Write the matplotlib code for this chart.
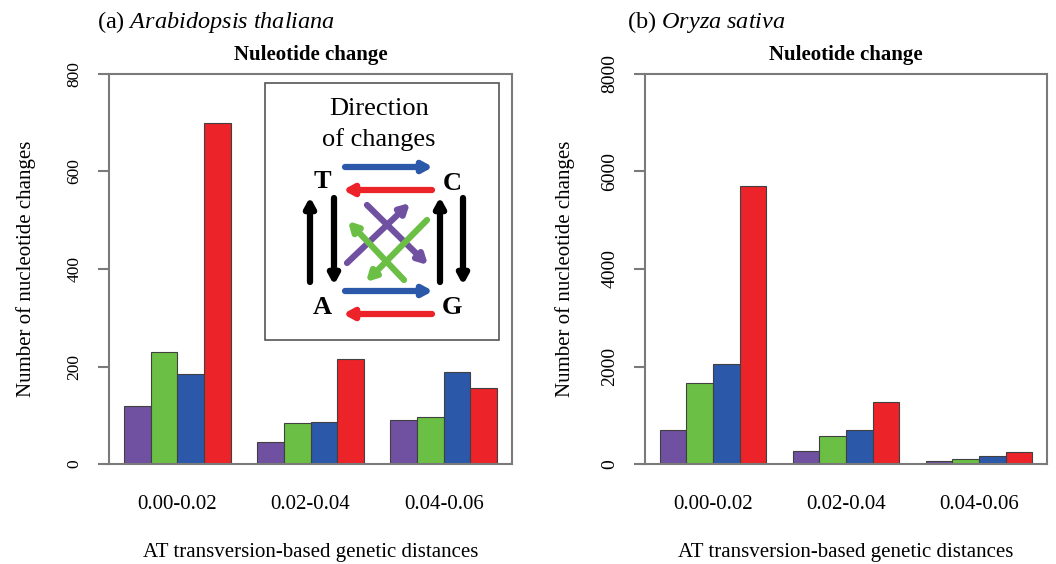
from matplotlib import pyplot as plt
import numpy as np

plt.rcParams['font.family'] = ['Liberation Serif', 'DejaVu Serif']
plt.rcParams['mathtext.fontset'] = 'custom'
plt.rcParams['mathtext.rm'] = 'Liberation Serif'
plt.rcParams['mathtext.it'] = 'Liberation Serif:italic'

# data
distances = ['0.00-0.02', '0.02-0.04', '0.04-0.06']
directions = ['purple', 'green', 'blue', 'red']
colorlist = ['#7050a0', '#6bbf45', '#2b58a8', '#ec2329']

arabidopsis = [
    [119, 230, 185, 700],
    [45, 84, 86, 215],
    [90, 97, 189, 156],
]
oryza = [
    [700, 1660, 2050, 5700],
    [267, 580, 690, 1272],
    [55, 110, 170, 246],
]

W, H = 1056, 564
fig = plt.figure(figsize=(W / 100, H / 100), dpi=100)

grey = '#7a7a7a'


def panel(rect, values, ymax, yticks, ytick_size, ylabelpad):
    ax = fig.add_axes(rect)
    values = np.array(values)
    # R barplot style: bar width 1, one bar space before each group
    for g in range(len(distances)):
        start = 1 + g * 5
        for i in range(len(directions)):
            ax.bar(start + i + 0.5, values[g, i], width=1.0,
                   color=colorlist[i], edgecolor='#404040', linewidth=0.8)
    ax.set_xlim(0.44, 15.56)
    ax.set_ylim(0, ymax)
    ax.set_xticks([3, 8, 13])
    ax.set_xticklabels(distances, fontsize=15)
    ax.tick_params(axis='x', length=0, pad=22)
    ax.set_yticks(yticks)
    ax.set_yticklabels([str(t) for t in yticks], rotation=90, va='center',
                       fontsize=ytick_size)
    ax.tick_params(axis='y', length=8, width=1.5, color=grey, pad=11)
    for s in ax.spines.values():
        s.set_color(grey)
        s.set_linewidth(1.5)
    ax.set_title('Nuleotide change', fontsize=15, fontweight='bold', pad=10)
    ax.set_xlabel('AT transversion-based genetic distances', fontsize=15,
                  labelpad=21)
    ax.set_ylabel('Number of nucleotide changes', fontsize=15,
                  labelpad=ylabelpad)
    return ax


ax1 = panel([109 / W, 1 - 464 / H, 403 / W, 390 / H], arabidopsis, 800,
            [0, 200, 400, 600, 800], 12.5, 22)
ax2 = panel([645 / W, 1 - 464 / H, 402 / W, 390 / H], oryza, 8000,
            [0, 2000, 4000, 6000, 8000], 14, 19)

fig.text(97 / W, 1 - 22 / H, r'(a) $\mathit{Arabidopsis\ thaliana}$',
         fontsize=17.5, va='center', ha='left')
fig.text(627 / W, 1 - 22 / H, r'(b) $\mathit{Oryza\ sativa}$',
         fontsize=17.5, va='center', ha='left')

# overlay in pixel coordinates for the direction diagram
ov = fig.add_axes([0, 0, 1, 1], facecolor='none')
ov.set_xlim(0, W)
ov.set_ylim(H, 0)
ov.axis('off')

ov.add_patch(plt.Rectangle((265, 83), 234, 257, fill=False,
                           edgecolor='#555555', linewidth=1.2))
ov.text(379, 109, 'Direction', ha='center', va='center', fontsize=19)
ov.text(379, 140, 'of changes', ha='center', va='center', fontsize=19)
for letter, x, y in [('T', 322, 181), ('C', 452, 183),
                     ('A', 322, 308), ('G', 452, 308)]:
    ov.text(x, y, letter, ha='center', va='center', fontsize=19,
            fontweight='bold')


def arrow(tail, head, color):
    ov.annotate('', xy=head, xytext=tail,
                arrowprops=dict(arrowstyle='-|>,head_length=0.55,head_width=0.3',
                                lw=4.5, color=color, shrinkA=0, shrinkB=0))


arrow((345, 167), (433, 167), colorlist[2])
arrow((432, 190), (343, 190), colorlist[3])
arrow((345, 291), (433, 291), colorlist[2])
arrow((432, 314), (343, 314), colorlist[3])
arrow((310, 282), (310, 197), 'black')
arrow((334, 198), (334, 285), 'black')
arrow((440, 282), (440, 197), 'black')
arrow((463, 198), (463, 285), 'black')
arrow((347, 263), (410, 203), colorlist[0])
arrow((367, 205), (428, 265), colorlist[0])
arrow((427, 220), (366, 282), colorlist[1])
arrow((404, 280), (348, 221), colorlist[1])

fig.savefig('out.png', dpi=100)
